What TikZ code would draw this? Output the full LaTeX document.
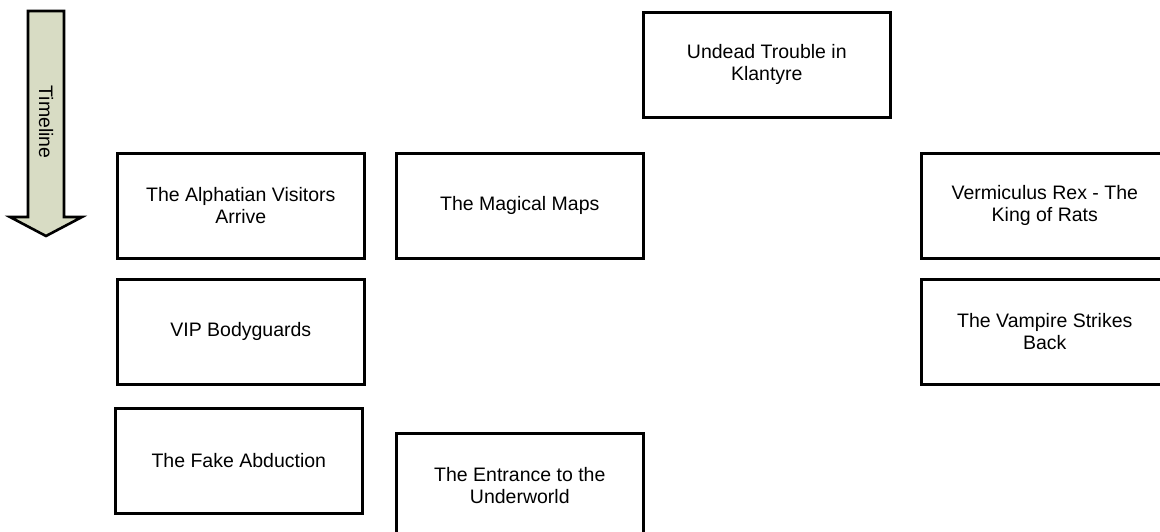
\documentclass[tikz,border=0pt]{standalone}
\usepackage{fontspec}
\setmainfont{Liberation Sans}
\usepackage{tikz}

\definecolor{timefill}{RGB}{216,220,196}

\tikzset{
  event/.style={draw=black,line width=2.6pt,anchor=north west,inner sep=0,
    minimum width=247pt,minimum height=105pt,align=center,
    font=\fontsize{19.5}{22}\selectfont},
}

\begin{document}
\begin{tikzpicture}[x=1pt,y=-1pt]
        \useasboundingbox (0,0) rectangle (1160,531);
        % timeline arrow on the left
        \draw[line width=2.6pt,fill=timefill,line join=miter]
          (28,11) -- (64,11) -- (64,217) -- (82,217) -- (46,236) -- (10,217) -- (28,217) -- cycle;
        \node[rotate=-90,inner sep=0,font=\fontsize{19.5}{22}\selectfont] (timeline) at (46,122) {Timeline};
        % events
        \node[event] (undead) at (642,11) {Undead Trouble in\\Klantyre};
        \node[event] (alphatian) at (116,152) {The Alphatian Visitors\\Arrive};
        \node[event] (maps) at (395,152) {The Magical Maps};
        \node[event] (rex) at (920,152) {Vermiculus Rex - The\\King of Rats};
        \node[event] (bodyguards) at (116,278) {VIP Bodyguards};
        \node[event] (vampire) at (920,278) {The Vampire Strikes\\Back};
        \node[event] (abduction) at (114,407) {The Fake Abduction};
        \node[event] (underworld) at (395,432) {The Entrance to the\\Underworld};
    \end{tikzpicture}
\end{document}
